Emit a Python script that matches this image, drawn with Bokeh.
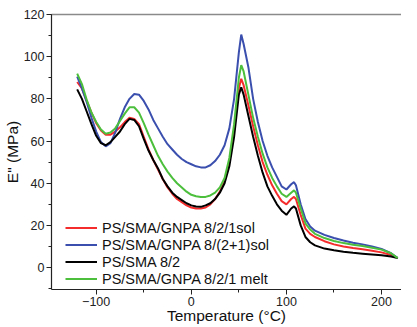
from bokeh.plotting import figure
from bokeh.models import (Range1d, Legend, LegendItem, SingleIntervalTicker, LinearAxis,
                          FixedTicker)
from bokeh.embed import file_html
from bokeh.resources import INLINE

# Temperature grid (°C)
temp = [-120, -115, -110, -105, -100, -95, -90, -85, -80, -75, -70, -65, -60, -55,
        -50, -45, -40, -35, -30, -25, -20, -15, -10, -5, 0, 5, 10, 15, 20, 25, 30,
        35, 40, 45, 50, 52.5, 55, 60, 65, 70, 75, 80, 85, 90, 95, 100, 105, 108,
        110, 115, 120, 125, 130, 140, 150, 160, 170, 180, 190, 200, 210, 217]

e_red = [88, 85, 79, 73.5, 68.5, 65, 63, 63, 64.5, 66.5, 69, 71, 70.5, 68,
         62, 56, 51, 46.5, 42, 38, 35, 32.5, 31, 29.5, 28.5, 28, 28, 28.5, 30, 32.5, 36,
         41, 50, 65, 85, 89.5, 86.5, 77, 67, 58, 50, 44, 39, 35, 31.5, 30, 32.5, 33.5,
         32.5, 25, 18.5, 16, 14.5, 12.5, 11, 10, 9.3, 8.7, 8, 7.2, 6, 4.5]

e_blue = [90.5, 85, 78.5, 71, 64.5, 59.5, 57.5, 59, 64, 70.5, 76, 80, 82.3, 82,
          79, 75, 70, 66, 62, 58.5, 56, 53.5, 51.5, 50, 49, 48, 47.5, 47.5, 48.5, 50.5, 53.5,
          58, 66, 80, 102, 110.5, 106, 95, 80, 69, 60, 53, 47.5, 43, 38.5, 37, 39.5, 40.5,
          39, 30, 23, 19.5, 17.5, 15.5, 14, 12.8, 11.8, 11, 10, 8.8, 6.8, 4.5]

e_black = [84.5, 80, 74, 68, 62.5, 59, 58, 59.5, 62, 64.5, 68, 70.5, 70, 67,
           61, 55.5, 51, 47, 42, 38.5, 35.5, 33.5, 32, 30.5, 29.5, 29, 28.8, 29.5, 30.5, 32.5, 35.5,
           40, 48, 62, 82, 85.5, 82, 72, 62, 53, 45, 38.5, 34, 30, 27, 25, 28, 29,
           28, 20, 14.5, 12, 10.5, 9, 8.2, 7.5, 7, 6.6, 6.2, 5.8, 5.2, 4.5]

e_green = [92, 87, 79.5, 73.5, 69, 65.5, 63.5, 64, 66, 69.5, 73, 76, 76, 73.5,
           68.5, 63, 58, 53, 49, 45.5, 42.5, 40, 38, 36, 34.5, 33.8, 33.5, 33.5, 34.2, 35.5, 38,
           42.5, 52, 68, 90, 96, 93, 82, 71, 62, 54, 47.5, 42.5, 38.5, 35, 33.5, 35.5, 36.6,
           35.5, 28, 21, 18, 16, 14, 12.6, 11.6, 10.8, 10.2, 9.4, 8.5, 6.8, 4.5]

labels = ["PS/SMA/GNPA 8/2/1sol", "PS/SMA/GNPA 8/(2+1)sol", "PS/SMA 8/2",
          "PS/SMA/GNPA 8/2/1 melt"]
colors = ["#f42c2c", "#3a4fae", "#000000", "#4cbf3c"]
series = [e_red, e_blue, e_black, e_green]

FONT = "Liberation Sans"

p = figure(width=401, height=326, output_backend="svg", toolbar_location=None,
           x_range=Range1d(-147, 221), y_range=Range1d(-10.4, 120),
           min_border_left=48, min_border_right=0, min_border_top=14, min_border_bottom=20)
p.outline_line_color = None
p.grid.visible = False
p.background_fill_color = "white"

items = []
for lab, col, ys in zip(labels, colors, series):
    r = p.line(temp, ys, line_color=col, line_width=2)
    items.append(LegendItem(label=lab, renderers=[r]))

top_axis = LinearAxis(ticker=FixedTicker(ticks=[], minor_ticks=[]),
                      axis_line_color="#8a8a8a", axis_line_width=1.5,
                      major_tick_line_color=None, minor_tick_line_color=None,
                      major_label_standoff=0, major_tick_out=0, minor_tick_out=0)
p.add_layout(top_axis, "above")

xa = p.below[0]
ya = p.left[0]
xa.ticker = SingleIntervalTicker(interval=100, num_minor_ticks=2)
ya.ticker = SingleIntervalTicker(interval=20, num_minor_ticks=2)

for ax in (xa, ya):
    ax.axis_line_color = "#222222"
    ax.axis_line_width = 1.2
    ax.major_tick_line_color = "#222222"
    ax.minor_tick_line_color = "#222222"
    ax.major_tick_in = 0
    ax.major_tick_out = 5
    ax.minor_tick_in = 0
    ax.minor_tick_out = 3
    ax.major_label_text_font = FONT
    ax.major_label_text_font_size = "12.5px"
    ax.major_label_text_color = "#222222"
    ax.major_label_text_line_height = 1.0
    ax.axis_label_text_font = FONT
    ax.axis_label_text_font_size = "15.5px"
    ax.axis_label_text_font_style = "normal"
    ax.axis_label_text_color = "#111111"
    ax.axis_label_text_line_height = 1.0

xa.axis_label = "Temperature (°C)"
ya.axis_label = 'E" (MPa)'
xa.major_label_standoff = 2
xa.axis_label_standoff = -2
ya.major_label_standoff = 2
ya.axis_label_standoff = 0

legend = Legend(items=items, location=(14, 2), border_line_color=None,
                background_fill_alpha=0, label_text_font=FONT,
                label_text_font_size="14.5px", label_text_color="#111111",
                glyph_width=32, glyph_height=17, label_height=17, spacing=0,
                label_standoff=5, padding=2, margin=0)
p.add_layout(legend)

open("out.html", "w").write(file_html(p, INLINE))
